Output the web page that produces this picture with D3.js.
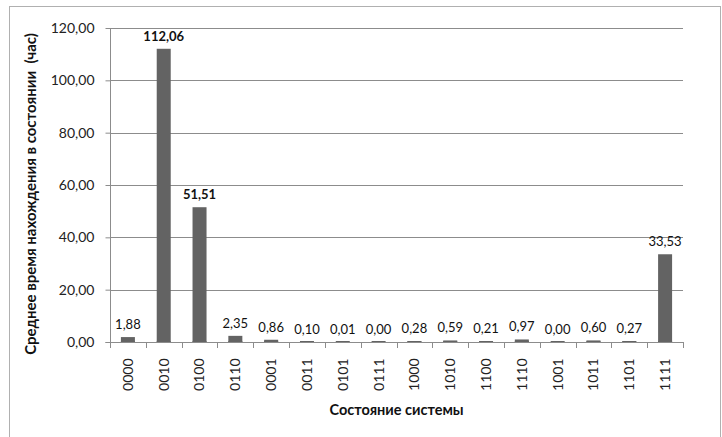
<!DOCTYPE html>
<html><head><meta charset="utf-8">
<script src="https://cdn.jsdelivr.net/npm/d3@7"></script>
<style>body{margin:0;background:#fff}svg{display:block}</style>
</head><body>
<svg id="c" width="722" height="437"></svg>
<script>
const categories = ["0000","0010","0100","0110","0001","0011","0101","0111","1000","1010","1100","1110","1001","1011","1101","1111"];
const values = [1.88,112.06,51.51,2.35,0.86,0.10,0.01,0.00,0.28,0.59,0.21,0.97,0.00,0.60,0.27,33.53];
const yTicks = [0,20,40,60,80,100,120];
const yTitle = "Среднее время нахождения в состоянии  (час)";
const xTitle = "Состояние системы";

const font = "Lato, 'Open Sans', sans-serif";
const svg = d3.select("#c");
const L = 110, R = 683, T = 28, B = 342;
const fmt = v => v.toFixed(2).replace(".", ",");

svg.append("rect").attr("x",9.5).attr("y",6.5).attr("width",711).attr("height",440)
  .attr("fill","#fff").attr("stroke","#b0b0b0");

const x = d3.scaleBand().domain(categories).range([L,R]).paddingInner(0).paddingOuter(0);
const y = d3.scaleLinear().domain([0,120]).range([B,T]);

// gridlines
svg.append("g").selectAll("line").data(yTicks.filter(d=>d>0)).join("line")
  .attr("x1",L).attr("x2",R).attr("y1",d=>Math.round(y(d))+0.5).attr("y2",d=>Math.round(y(d))+0.5)
  .attr("stroke","#8c8c8c").attr("stroke-width",1);

// y axis
const ya = svg.append("g").attr("transform",`translate(${L+0.5},0)`)
  .call(d3.axisLeft(y).tickValues(yTicks).tickFormat(fmt).tickSize(5).tickPadding(11));
ya.select(".domain").attr("stroke","#8c8c8c").attr("d",`M-5,${B+0.5}H0V${T}`);
ya.selectAll(".tick line").attr("stroke","#8c8c8c");
ya.selectAll(".tick text").attr("font-family",font).attr("font-size",14).attr("fill","#222");

// bars
const bw = 14;
svg.append("g").selectAll("rect").data(values).join("rect")
  .attr("x",(d,i)=>x(categories[i])+x.bandwidth()/2-bw/2)
  .attr("width",bw)
  .attr("y",d=>y(d)).attr("height",d=>Math.max(0,B-y(d)))
  .attr("fill","#636363");

// baseline marks for near-zero bars
svg.append("g").selectAll("line").data(values).join("line")
  .attr("x1",(d,i)=>x(categories[i])+x.bandwidth()/2-bw/2)
  .attr("x2",(d,i)=>x(categories[i])+x.bandwidth()/2+bw/2)
  .attr("y1",B-0.5).attr("y2",B-0.5).attr("stroke","#636363").attr("stroke-width",1);

// x axis
const xa = svg.append("g").attr("transform",`translate(0,${B+0.5})`)
  .call(d3.axisBottom(x).tickSize(0).tickPadding(0));
xa.select(".domain").attr("stroke","#8c8c8c").attr("d",`M${L},0H${R}`);
xa.selectAll(".tick text").attr("font-family",font).attr("font-size",14).attr("fill","#222")
  .attr("transform","rotate(-90)").attr("text-anchor","end").attr("x",-16).attr("y",0).attr("dy","0.35em");
svg.append("g").selectAll("line").data(d3.range(categories.length+1)).join("line")
  .attr("x1",i=>Math.round(L+i*x.bandwidth())+0.5).attr("x2",i=>Math.round(L+i*x.bandwidth())+0.5)
  .attr("y1",B).attr("y2",B+6).attr("stroke","#8c8c8c");

// value labels
svg.append("g").selectAll("text").data(values).join("text")
  .attr("x",(d,i)=>x(categories[i])+x.bandwidth()/2)
  .attr("y",d=>y(d)-8)
  .attr("text-anchor","middle").attr("font-family",font).attr("font-size",13)
  .attr("font-weight",d=>d>50?"bold":"normal").attr("fill","#111")
  .text(fmt);

// titles
svg.append("text").attr("x",(L+R)/2).attr("y",415).attr("text-anchor","middle")
  .attr("font-family",font).attr("font-size",14.5).attr("font-weight","bold").attr("fill","#111").text(xTitle);
svg.append("text").attr("transform","translate(36,194) rotate(-90)").attr("text-anchor","middle")
  .attr("font-family",font).attr("font-size",15).attr("font-weight","bold").attr("fill","#111")
  .attr("xml:space","preserve").style("white-space","pre").text(yTitle);
</script>
</body></html>
